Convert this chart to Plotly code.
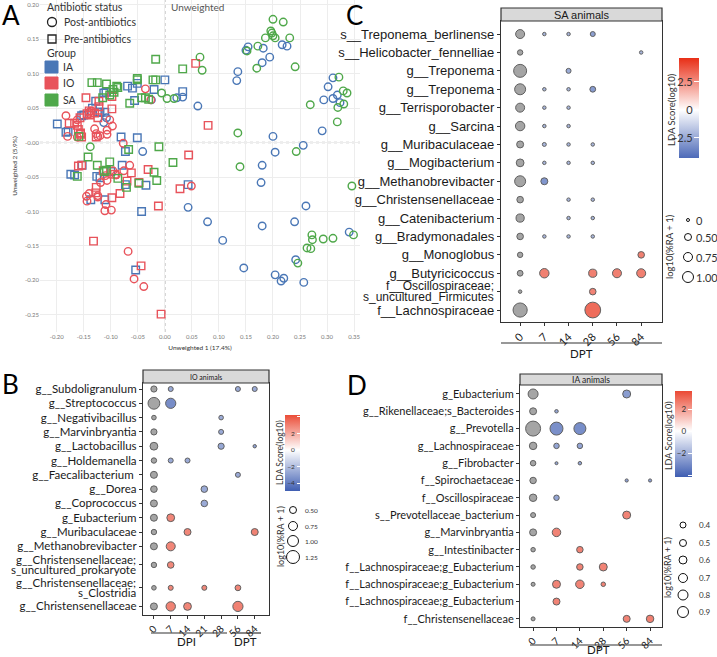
import plotly.graph_objects as go

W, H = 717, 657

# ================= Panel A : PCoA (unweighted) =================
IA_post_x = [0.154,0.150,0.182,0.217,0.226,0.194,0.180,0.135,0.133,0.311,0.302,0.319,0.294,0.311,0.324,0.061,0.022,0.033,0.291,0.200,0.256,0.204,0.180,-0.041,0.178,0.043,0.079,0.107,0.180,0.261,0.240,0.146,0.204,0.215,0.220,0.257,0.242,0.341,-0.025,-0.108,-0.113]
IA_post_y = [0.139,0.134,0.137,0.142,0.140,0.124,0.116,0.103,0.090,0.094,0.081,0.069,0.062,0.064,0.058,0.053,0.065,0.066,0.017,0.009,-0.004,-0.014,-0.033,-0.013,-0.058,-0.094,-0.115,-0.142,-0.121,-0.092,-0.115,-0.182,-0.192,-0.201,-0.197,-0.203,-0.170,-0.130,0.062,0.036,0.029]
IA_pre_x = [0.000,0.033,-0.020,-0.069,-0.060,-0.051,-0.109,-0.113,-0.128,-0.134,-0.123,-0.120,-0.111,-0.154,-0.150,-0.199,-0.183,-0.179,-0.081,-0.051,-0.073,-0.079,-0.153,-0.174,-0.167,-0.126,-0.120,-0.100,-0.073,-0.035,-0.137,-0.111,0.043,-0.043,-0.054,-0.056]
IA_pre_y = [0.091,0.074,0.077,0.082,0.079,0.086,0.073,0.072,0.060,0.050,0.044,0.044,0.044,0.039,0.040,0.027,0.015,0.016,0.008,0.007,-0.013,-0.033,-0.033,-0.046,-0.047,-0.049,-0.051,-0.042,-0.061,-0.062,-0.083,-0.083,-0.061,-0.100,-0.185,0.061]
IO_post_x = [-0.036,-0.026,-0.183,-0.162,-0.180,-0.162,-0.140,-0.136,-0.102,-0.130,-0.127,-0.124,-0.120,-0.107,-0.107,-0.097,-0.077,-0.065,-0.096,-0.076,-0.119,-0.107,-0.140,-0.145,-0.144,-0.124,-0.124,-0.109,-0.111,-0.099,0.049,-0.068,-0.057,-0.039,-0.110,-0.090]
IO_post_y = [0.078,0.062,0.039,0.033,0.009,0.008,0.044,0.046,0.033,0.020,0.013,0.009,0.010,0.018,0.012,0.024,-0.001,-0.033,-0.041,-0.041,-0.058,-0.055,-0.074,-0.078,-0.085,-0.077,-0.079,-0.090,-0.099,-0.098,-0.063,-0.158,-0.198,-0.209,-0.048,-0.047]
IO_pre_x = [0.057,0.080,0.044,0.028,-0.012,-0.007,-0.044,-0.132,-0.146,-0.122,-0.098,-0.098,-0.122,-0.124,-0.130,-0.139,-0.144,-0.157,-0.167,-0.177,-0.162,-0.160,-0.156,-0.156,-0.154,-0.127,-0.160,-0.154,-0.031,-0.114,-0.093,-0.062,-0.070,-0.048,-0.127,-0.128,-0.083,-0.098,-0.140]
IO_pre_y = [0.115,0.025,-0.018,-0.067,-0.092,-0.249,-0.179,-0.143,0.065,0.060,0.067,0.049,0.052,0.036,0.043,0.040,0.042,0.036,0.028,0.028,0.025,0.019,0.014,0.012,0.008,0.008,-0.034,-0.033,-0.039,-0.041,-0.046,-0.044,-0.056,-0.058,-0.065,-0.073,-0.074,-0.080,0.046]
SA_post_x = [0.200,0.219,0.196,0.198,0.200,0.204,0.231,0.186,0.172,0.152,0.170,0.241,0.065,0.069,-0.006,0.004,0.017,0.269,0.322,0.330,0.337,0.331,0.320,0.319,0.135,0.243,0.139,0.346,0.272,0.273,0.263,0.270,0.293,0.311,0.349,0.246,-0.138]
SA_post_y = [0.179,0.175,0.162,0.159,0.155,0.152,0.152,0.152,0.140,0.133,0.108,0.110,0.124,0.105,0.072,0.064,0.064,0.055,0.095,0.075,0.072,0.056,0.051,0.030,0.014,-0.013,-0.035,-0.063,-0.134,-0.141,-0.153,-0.154,-0.140,-0.139,-0.134,-0.175,-0.006]
SA_pre_x = [-0.017,0.033,0.015,-0.011,-0.135,-0.125,-0.108,-0.089,-0.087,-0.051,-0.051,-0.022,-0.017,-0.096,-0.094,-0.102,-0.115,-0.065,-0.043,-0.036,-0.030,-0.159,-0.142,-0.067,-0.102,-0.125,-0.020,-0.162,-0.112,-0.108,-0.087,-0.071,-0.048,-0.015]
SA_pre_y = [0.121,0.107,-0.029,-0.006,0.087,0.087,0.085,0.082,0.080,0.093,0.091,0.091,0.091,0.077,0.073,0.069,0.065,0.057,0.065,0.065,0.063,0.009,-0.021,-0.010,-0.028,-0.033,-0.043,-0.049,-0.042,-0.040,-0.052,-0.065,-0.059,-0.055]
A_xticks = [-0.20,-0.15,-0.10,-0.05,0.00,0.05,0.10,0.15,0.20,0.25,0.30,0.35]
A_yticks = [-0.25,-0.20,-0.15,-0.10,-0.05,0.00,0.05,0.10,0.15,0.20]
A_xlabel = "Unweighted 1 (17.4%)"
A_ylabel = "Unweighted 2 (5.9%)"

# ================= Panel B : IO animals =================
B_days = ["0", "7", "14", "21", "28", "56", "84"]
B_taxa = ["g__Subdoligranulum", "g__Streptococcus", "g__Negativibacillus", "g__Marvinbryantia",
          "g__Lactobacillus", "g__Holdemanella", "g__Faecalibacterium ", "g__Dorea", "g__Coprococcus",
          "g_Eubacterium", "g__Muribaculaceae", "g__Methanobrevibacter",
          "g__Christensenellaceae;<br>s_uncultured_prokaryote", "g__Christensenellaceae;<br>s_Clostridia",
          "g__Christensenellaceae"]
B_row = [0,0,0,0, 1,1, 2,2, 3,3, 4,4,4, 5,5,5, 6,6, 7,7, 8,8, 9,9, 10,10,10, 11,11, 12,12, 13,13,13,13, 14,14,14,14]
B_col = [0,1,5,6, 0,1, 0,4, 0,4, 0,4,6, 0,1,2, 0,5, 0,3, 0,3, 0,1, 0,2,6, 0,1, 0,1, 0,1,3,5, 0,1,2,5]
B_ra = [0.4,0.25,0.25,0.25, 1.1,0.9, 0.2,0.2, 0.4,0.25, 0.6,0.4,0.05, 0.3,0.25,0.25, 0.5,0.25, 0.45,0.45, 0.5,0.45,
        0.5,0.6, 0.3,0.5,0.5, 0.5,0.75, 0.3,0.45, 0.2,0.25,0.25,0.35, 0.5,0.8,0.6,0.9]
B_lda = [None,-3.7,-3.7,-3.7, None,-4.97, None,-3.6, None,-3.7, None,-3.8,-4.2, None,-3.7,-3.7, None,-3.7, None,-3.7,
         None,-3.7, None,4.1, None,4.1,4.2, None,4.1, None,4.0, None,4.0,4.0,4.1, None,4.2,4.1,4.24]
B_size_breaks = [0.50, 0.75, 1.00, 1.25]
B_lda_ticks = [-4, -2, 0, 2, 4]

# ================= Panel C : SA animals =================
C_days = ["0", "7", "14", "28", "56", "84"]
C_taxa = ["s__Treponema_berlinense", "s__Helicobacter_fennelliae", "g__Treponema", "g__Treponema",
          "g__Terrisporobacter", "g__Sarcina", "g__Muribaculaceae", "g__Mogibacterium", "g__Methanobrevibacter",
          "g__Christensenellaceae", "g__Catenibacterium", "g__Bradymonadales", "g__Monoglobus",
          "g__Butyricicoccus", "f__Oscillospiraceae;<br>s_uncultured_Firmicutes", "f__Lachnospiraceae"]
C_row = [0,0,0,0, 1,1, 2,2, 3,3,3,3, 4,4,4, 5,5,5, 6,6,6,6, 7,7,7,7, 8,8, 9,9,9, 10,10,10, 11,11,11,11, 12,12,
         13,13,13,13,13, 14,14, 15,15]
C_col = [0,1,2,3, 0,5, 0,2, 0,1,2,3, 0,1,2, 0,1,2, 0,1,2,3, 0,1,2,3, 0,1, 0,2,3, 0,2,3, 0,1,2,3, 0,5,
         0,1,3,4,5, 0,3, 0,3]
C_ra = [0.75,0.06,0.06,0.25, 0.3,0.06, 1.25,0.25, 1.0,0.06,0.06,0.35, 0.75,0.06,0.06, 0.8,0.06,0.06,
        0.5,0.12,0.06,0.06, 0.6,0.06,0.06,0.06, 1.0,0.5, 0.45,0.06,0.06, 0.65,0.06,0.06, 0.45,0.06,0.06,0.06,
        0.3,0.45, 0.35,0.8,0.65,0.75,0.75, 0.06,0.45, 1.4,1.6]
C_lda = [None,-3.0,-3.0,-3.9, None,-3.0, None,-3.4, None,-3.0,-3.0,-4.1, None,-3.0,-3.0, None,-3.0,-3.0,
         None,-3.0,-3.0,-3.0, None,-3.0,-3.0,-3.0, None,-4.29, None,-3.0,-3.0, None,-3.0,-3.0, None,-3.0,-3.0,-3.0,
         None,4.0, None,4.0,4.0,4.0,4.0, None,3.9, None,4.64]
C_size_breaks = [0, 0.50, 0.75, 1.00]
C_size_labels = ["0", "0.50", "0.75", "1.00"]
C_lda_ticks = [-2.5, 0, 2.5]

# ================= Panel D : IA animals =================
D_days = ["0", "7", "14", "28", "56", "84"]
D_taxa = ["g_Eubacterium", "g__Rikenellaceae;s_Bacteroides", "g__Prevotella", "g__Lachnospiraceae",
          "g__Fibrobacter", "f__Spirochaetaceae", "f__Oscillospiraceae", "s__Prevotellaceae_bacterium",
          "g__Marvinbryantia", "g__Intestinibacter", "f__Lachnospiraceae;g_Eubacterium",
          "f__Lachnospiraceae;g_Eubacterium", "f__Lachnospiraceae;g_Eubacterium", "f__Christensenellaceae"]
D_row = [0,0, 1,1, 2,2,2, 3,3,3, 4,4,4, 5,5,5, 6,6, 7,7, 8,8, 9,9, 10,10,10, 11,11,11,11, 12, 13,13,13]
D_col = [0,4, 0,1, 0,1,2, 0,1,2, 0,1,2, 0,4,5, 0,1, 0,4, 0,1, 0,2, 0,2,3, 0,1,2,3, 1, 0,4,5]
D_ra = [0.8,0.6, 0.5,0.15, 1.3,1.1,1.0, 0.55,0.35,0.35, 0.35,0.1,0.15, 0.45,0.12,0.12, 0.55,0.35, 0.3,0.6,
        0.5,0.65, 0.25,0.45, 0.25,0.45,0.6, 0.2,0.6,0.65,0.25, 0.5, 0.2,0.5,0.55]
D_lda = [None,-3.6, None,-3.3, None,-4.1,-4.15, None,-3.3,-3.3, None,-3.3,-3.3, None,-3.6,-3.6, None,-3.3,
         None,3.5, None,3.5, None,3.5, None,3.5,3.5, None,3.5,3.5,3.5, 3.5, None,3.5,3.6]
D_size_breaks = [0.4, 0.5, 0.6, 0.7, 0.8, 0.9]
D_lda_ticks = [-4, -2, 0, 2]

# ================= styles / helpers =================
GROUP_COL = {"IA": "#4A77B6", "IO": "#E8535B", "SA": "#4FA84A"}
LOW, HIGH = "#3F5EB2", "#E82E16"
SANS = "Lato, Noto Sans, sans-serif"
ARIAL = "Liberation Sans, Arial, sans-serif"


def px(x):
    return x / W


def py(y):
    return 1 - y / H


def hex2rgb(h):
    h = h.lstrip("#")
    return tuple(int(h[i:i + 2], 16) for i in (0, 2, 4))


def mix(c1, c2, t):
    a, b = hex2rgb(c1), hex2rgb(c2)
    return "rgb(%d,%d,%d)" % tuple(round(a[i] + (b[i] - a[i]) * t) for i in range(3))


def gradient2(cmin, cmax):
    m = max(abs(cmin), abs(cmax))
    z = (0 - cmin) / (cmax - cmin)
    return [[0, mix("#FFFFFF", LOW, abs(cmin) / m)], [z, "#FFFFFF"], [1, mix("#FFFFFF", HIGH, abs(cmax) / m)]]


def row_positions(labels, tall):
    pos, prev = [], None
    for lab in labels:
        h = tall if "<br>" in lab else 1.0
        pos.append(0.0 if prev is None else pos[-1] + 0.5 * (prev + h))
        prev = h
    return pos


fig = go.Figure()
shapes, annos = [], []

# ---------- Panel A traces ----------
for grp, sx, sy, sym in [("IA", IA_post_x, IA_post_y, "circle-open"), ("IA", IA_pre_x, IA_pre_y, "square-open"),
                         ("IO", IO_post_x, IO_post_y, "circle-open"), ("IO", IO_pre_x, IO_pre_y, "square-open"),
                         ("SA", SA_post_x, SA_post_y, "circle-open"), ("SA", SA_pre_x, SA_pre_y, "square-open")]:
    fig.add_trace(go.Scatter(x=sx, y=sy, mode="markers", xaxis="x", yaxis="y", showlegend=False,
                             marker=dict(symbol=sym, size=7.5, color=GROUP_COL[grp], line=dict(width=1.4))))

shapes.append(dict(type="line", xref="x", yref="y domain", x0=0, x1=0, y0=0, y1=1,
                   line=dict(color="#BDBDBD", width=1.5, dash="dot"), layer="below"))
shapes.append(dict(type="line", xref="x domain", yref="y", x0=0, x1=1, y0=0, y1=0,
                   line=dict(color="#BDBDBD", width=1.5, dash="dot"), layer="below"))
annos.append(dict(text="Unweighted", x=px(169), y=py(7), xref="paper", yref="paper", xanchor="left",
                  yanchor="middle", showarrow=False, font=dict(family=SANS, size=10, color="#555")))

# legend of panel A
leg_font = dict(family=SANS, size=10.5, color="#333")
for txt, yy, xx in [("Antibiotic status", 7, 45), ("Post-antibiotics", 22, 62), ("Pre-antibiotics", 39, 62),
                    ("Group", 53, 45), ("IA", 67, 61), ("IO", 83, 61), ("SA", 100, 61)]:
    annos.append(dict(text=txt, x=px(xx), y=py(yy), xref="paper", yref="paper", xanchor="left",
                      yanchor="middle", showarrow=False, font=leg_font))
shapes.append(dict(type="circle", xref="paper", yref="paper", x0=px(47.5), x1=px(56.5), y0=py(26.5), y1=py(17.5),
                   line=dict(color="#222", width=1.3)))
shapes.append(dict(type="rect", xref="paper", yref="paper", x0=px(48), x1=px(56), y0=py(43), y1=py(35),
                   line=dict(color="#222", width=1.3)))
for grp, yy in [("IA", 67), ("IO", 83), ("SA", 100)]:
    shapes.append(dict(type="rect", xref="paper", yref="paper", x0=px(45), x1=px(58), y0=py(yy + 6), y1=py(yy - 6),
                       fillcolor=GROUP_COL[grp], line=dict(color=GROUP_COL[grp], width=1)))


# ---------- bubble panels ----------
def bubble_panel(k, taxa, days, rows, cols, ra, lda, size_fn, tall, cbar, xdom, ydom, xr, yr,
                 lab_font, tick_font, half_gap, two_line_size):
    pos = row_positions(taxa, tall)
    xa, ya = "x%d" % k, "y%d" % k
    g = [i for i in range(len(rows)) if lda[i] is None]
    c = [i for i in range(len(rows)) if lda[i] is not None]
    fig.add_trace(go.Scatter(
        x=[cols[i] for i in g], y=[pos[rows[i]] for i in g], mode="markers", xaxis=xa, yaxis=ya,
        showlegend=False, marker=dict(size=[size_fn(ra[i]) for i in g], sizemode="diameter", color="#7F7F7F",
                                      line=dict(color="#1E1E1E", width=1))))
    cmin, cmax = cbar["range"]
    fig.add_trace(go.Scatter(
        x=[cols[i] for i in c], y=[pos[rows[i]] for i in c], mode="markers", xaxis=xa, yaxis=ya,
        showlegend=False,
        marker=dict(size=[size_fn(ra[i]) for i in c], sizemode="diameter", color=[lda[i] for i in c],
                    colorscale=gradient2(cmin, cmax), cmin=cmin, cmax=cmax,
                    line=dict(color="#1E1E1E", width=1), showscale=True,
                    colorbar=dict(x=px(cbar["x"]), xanchor="left", y=py(cbar["yc"]), yanchor="middle",
                                  len=cbar["len"], lenmode="pixels", thickness=cbar["th"], thicknessmode="pixels",
                                  xpad=0, ypad=0, outlinewidth=0, tickvals=cbar["ticks"],
                                  ticks="inside", tickcolor="white", ticklen=cbar["th"] // 4,
                                  ticklabelposition="inside",
                                  tickfont=dict(family=SANS, size=cbar["fs"], color="#333")))))
    # single-line labels go on the axis, two-line labels are drawn with tight line spacing
    ticktext = ["" if "<br>" in t else t for t in taxa]
    f2 = dict(lab_font, size=two_line_size)
    for t, p in zip(taxa, pos):
        if "<br>" in t:
            ypx = ydom[0] + (p - yr[1]) / (yr[0] - yr[1]) * (ydom[1] - ydom[0])
            for j, line in enumerate(t.split("<br>")):
                annos.append(dict(text=line, x=px(xdom[0] - 5.5), y=py(ypx + (2 * j - 1) * half_gap),
                                  xref="paper", yref="paper", xanchor="right", yanchor="middle",
                                  showarrow=False, font=f2))
    xax = dict(domain=[px(xdom[0]), px(xdom[1])], range=xr, anchor=ya, tickmode="array",
               tickvals=list(range(len(days))), ticktext=days, tickangle=-45, ticks="outside", ticklen=3,
               tickcolor="#333", showline=True, mirror=True, linecolor="#333", linewidth=1.2,
               showgrid=False, zeroline=False, tickfont=tick_font)
    yax = dict(domain=[py(ydom[1]), py(ydom[0])], range=yr, anchor=xa, tickmode="array",
               tickvals=pos, ticktext=ticktext, ticks="outside", ticklen=3, tickcolor="#333",
               showline=True, mirror=True, linecolor="#333", linewidth=1.2, showgrid=False,
               zeroline=False, tickfont=lab_font)
    return xax, yax


xB, yB = bubble_panel(2, B_taxa, B_days, B_row, B_col, B_ra, B_lda, lambda v: 3 + 8 * v, 1.6,
                      dict(range=(-4.97, 4.24), x=285, yc=453, len=76, th=15, ticks=B_lda_ticks, fs=6.5),
                      (143, 269), (383, 615), [-0.65, 6.85], [15.80, -0.42],
                      dict(family=SANS, size=11.5, color="#1A1A1A"), dict(family=SANS, size=10, color="#1A1A1A"),
                      5, 11.5)
xC, yC = bubble_panel(3, C_taxa, C_days, C_row, C_col, C_ra, C_lda, lambda v: 3 + 8 * v, 1.0,
                      dict(range=(-4.29, 4.64), x=679, yc=108, len=100, th=20, ticks=C_lda_ticks, fs=11),
                      (501, 662), (21, 322), [-0.79, 5.86], [15.65, -0.71],
                      dict(family=ARIAL, size=13, color="#1A1A1A"), dict(family=SANS, size=11, color="#1A1A1A"),
                      5.5, 12)
xD, yD = bubble_panel(4, D_taxa, D_days, D_row, D_col, D_ra, D_lda, lambda v: 2 + 10 * v, 1.0,
                      dict(range=(-4.18, 3.64), x=675, yc=434, len=86, th=17, ticks=D_lda_ticks, fs=8),
                      (520, 662), (385, 627), [-0.56, 5.51], [13.47, -0.52],
                      dict(family=SANS, size=11, color="#1A1A1A"), dict(family=SANS, size=10, color="#1A1A1A"),
                      5, 11)

# strips
for (x0, x1, y0, y1, txt, fs, fam) in [(143, 269, 370, 383, "IO animals", 7, SANS),
                                       (501, 662, 8, 21, "SA animals", 11, ARIAL),
                                       (520, 662, 374, 385, "IA animals", 8.5, SANS)]:
    shapes.append(dict(type="rect", xref="paper", yref="paper", x0=px(x0), x1=px(x1), y0=py(y1), y1=py(y0),
                       fillcolor="#D9D9D9", line=dict(color="#333", width=1.2)))
    annos.append(dict(text=txt, x=px((x0 + x1) / 2), y=py((y0 + y1) / 2), xref="paper", yref="paper",
                      showarrow=False, xanchor="center", yanchor="middle", font=dict(family=fam, size=fs, color="#1A1A1A")))

# time-group underlines
for (x0, x1, yl, txt, xt, yt) in [(151, 227, 633, "DPI", 186, 641), (232, 261, 633, "DPT", 245, 641),
                                  (501, 662, 343, "DPT", 581, 353), (530, 662, 645, "DPT", 598, 649)]:
    shapes.append(dict(type="line", xref="paper", yref="paper", x0=px(x0), x1=px(x1), y0=py(yl), y1=py(yl),
                       line=dict(color="#333", width=1.2)))
    annos.append(dict(text=txt, x=px(xt), y=py(yt), xref="paper", yref="paper", showarrow=False,
                      xanchor="center", yanchor="middle", font=dict(family=SANS, size=11.5, color="#1A1A1A")))

# colour-bar and size legend titles
for (txt, xx, yy, fs) in [("LDA Score(log10)", 280, 453, 8.5), ("log10(%RA + 1)", 280, 537, 9),
                          ("LDA Score(log10)", 671, 110, 9.5), ("log10(%RA + 1)", 670, 247, 9.5),
                          ("LDA Score(log10)", 668, 436, 9), ("log10(%RA + 1)", 667, 568, 9)]:
    annos.append(dict(text=txt, x=px(xx), y=py(yy), xref="paper", yref="paper", showarrow=False, textangle=-90,
                      xanchor="center", yanchor="middle", font=dict(family=SANS, size=fs, color="#333")))


def size_legend(breaks, labels, cx, ys, size_fn, lx, fs):
    for b, lab, yy in zip(breaks, labels, ys):
        r = size_fn(b) / 2
        shapes.append(dict(type="circle", xref="paper", yref="paper", x0=px(cx - r), x1=px(cx + r),
                           y0=py(yy + r), y1=py(yy - r), line=dict(color="#111", width=1)))
        annos.append(dict(text=lab, x=px(lx), y=py(yy), xref="paper", yref="paper", showarrow=False,
                          xanchor="left", yanchor="middle", font=dict(family=SANS, size=fs, color="#333")))


size_legend(B_size_breaks, ["%.2f" % b for b in B_size_breaks], 293, [510, 526, 541, 557], lambda v: 3 + 8 * v, 303, 6.5)
size_legend(C_size_breaks, C_size_labels, 688, [220, 237, 257, 277], lambda v: 3 + 8 * v, 694, 11)
size_legend(D_size_breaks, ["%.1f" % b for b in D_size_breaks], 683, [525, 543, 560, 578, 595, 612],
            lambda v: 2 + 10 * v, 697, 8)

# panel letters
for (t, xx, yy) in [("A", 0, -3.5), ("B", 0, 365.5), ("C", 344, -3.5), ("D", 345, 366.5)]:
    annos.append(dict(text=t, x=px(xx), y=py(yy), xref="paper", yref="paper", showarrow=False,
                      xanchor="left", yanchor="top", font=dict(family=SANS, size=26, color="#000")))

fig.update_layout(
    width=W, height=H, margin=dict(l=0, r=0, t=0, b=0), paper_bgcolor="white", plot_bgcolor="white",
    showlegend=False,
    xaxis=dict(domain=[px(40), px(360)], range=[-0.231, 0.361], anchor="y", tickmode="array", tickvals=A_xticks,
               ticktext=["%.2f" % v for v in A_xticks], showgrid=True, gridcolor="#EDEDED", gridwidth=1,
               zeroline=False, showline=False, tickfont=dict(family=SANS, size=6, color="#7A7A7A"),
               title=dict(text=A_xlabel, font=dict(family=SANS, size=6.5, color="#333"), standoff=6)),
    yaxis=dict(domain=[py(332), 1], range=[-0.275, 0.207], anchor="x", tickmode="array", tickvals=A_yticks,
               ticktext=["-0.00" if v == 0 else "%.2f" % v for v in A_yticks], showgrid=True, gridcolor="#EDEDED",
               gridwidth=1, zeroline=False, showline=False, tickfont=dict(family=SANS, size=6, color="#7A7A7A"),
               title=dict(text=A_ylabel, font=dict(family=SANS, size=6.5, color="#333"), standoff=6)),
    xaxis2=xB, yaxis2=yB, xaxis3=xC, yaxis3=yC, xaxis4=xD, yaxis4=yD,
    shapes=shapes, annotations=annos,
)

fig.write_html("out.html")
